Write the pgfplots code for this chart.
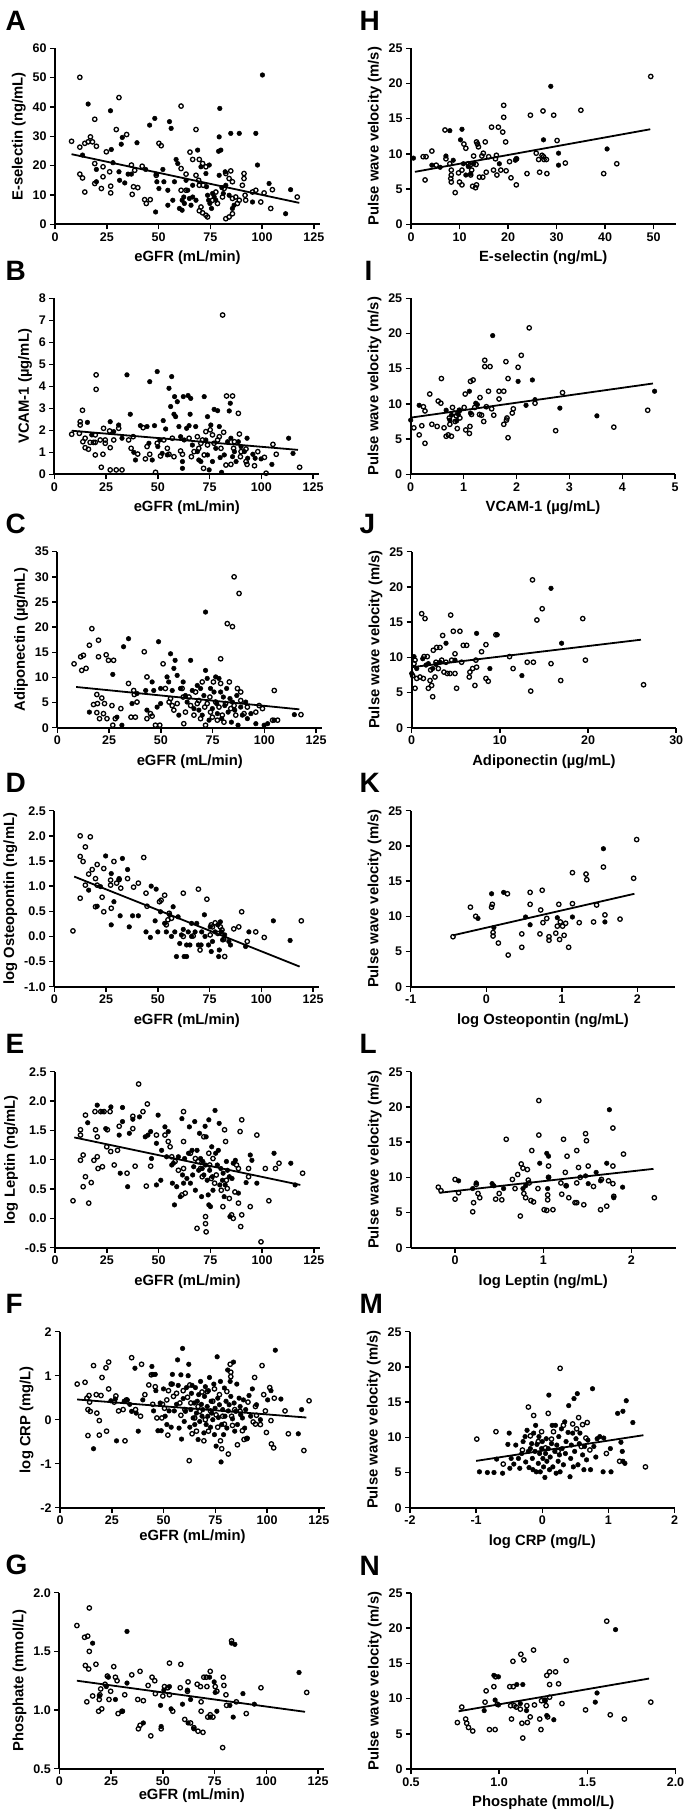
\documentclass[border=0pt]{standalone}
\usepackage{fontspec}
\setmainfont{Liberation Sans}
\usepackage{pgfplots}
\pgfplotsset{compat=1.18}
\pgfplotsset{
  panel/.style={
    scale only axis, width=265pt, height=176pt, anchor=north west,
    axis lines=left, axis line style={-, line width=2pt},
    every tick/.style={black, line width=1.5pt},
    tick align=outside, major tick length=5pt,
    tick label style={font=\fontsize{12.5}{14}\selectfont\bfseries},
    label style={font=\fontsize{14.8}{16}\selectfont\bfseries},
    xlabel style={yshift=-2.5pt},
    /pgf/number format/assume math mode=true,
    clip=false, scaled ticks=false,
  },
  lpanel/.style={panel, xmin=0, xmax=128, xtick={0,25,...,125}, xlabel={eGFR (mL/min)}},
  rpanel/.style={panel, width=264.5pt, ymin=0, ymax=25, ytick={0,5,...,25}, ylabel={Pulse wave velocity (m/s)}},
  dec1y/.style={yticklabel style={/pgf/number format/fixed, /pgf/number format/fixed zerofill, /pgf/number format/precision=1}},
  dec1x/.style={xticklabel style={/pgf/number format/fixed, /pgf/number format/fixed zerofill, /pgf/number format/precision=1}},
  op/.style={only marks, mark=o, mark size=2.2pt, mark options={line width=1.3pt, draw=black, fill=white}},
  fp/.style={only marks, mark=*, mark size=2.3pt, mark options={line width=0.5pt, draw=black, fill=black}},
  reg/.style={no marks, line width=1.8pt, black},
}
\tikzset{plet/.style={anchor=base west, font=\fontsize{28}{30}\selectfont\bfseries}}
\begin{document}
\begin{tikzpicture}
\useasboundingbox (0pt,0pt) rectangle (685pt,-1811pt);
% ---------------- A ----------------
\node[plet] at (2pt,-30.3pt) {A};
\begin{axis}[lpanel, at={(55pt,-48.3pt)}, ymin=0, ymax=60, ytick={0,10,...,60}, ylabel={E-selectin (ng/mL)}]
\addplot[op] coordinates {(8,28.3)(12,50.1)(12,26.3)(14.4,27.6)(12,17.1)(13.3,15.8)(14.4,11)(16,28.1)(17.1,29.8)(18.1,28.1)(19.2,35.8)(20,26.6)(19.2,20.7)(19.2,13.9)(22.4,12.2)(23.2,16.2)(24.8,24.7)(23.2,19.6)(26.4,17.9)(26.9,13)(26.9,10.7)(30.9,43.2)(29.6,32.3)(34.6,30.6)(36.9,20.2)(37.3,10.2)(37.9,12.8)(40,12.5)(38.5,18.4)(42.1,19.8)(43.3,8.4)(44.1,7.1)(46,8.4)(48.9,16.7)(50.2,27.6)(51.3,26.8)(60.9,40.3)(60.9,19)(60.9,11.6)(63.3,11.6)(63.3,17.1)(65.2,24.6)(68.1,32.3)(66.5,22.1)(69.7,22.1)(71.3,20.7)(72.9,19.6)(68.1,16.7)(69.4,15)(69.7,13.3)(71.6,13.3)(69.7,4.6)(71.3,3.9)(72.9,3.1)(73.7,2.5)(70.5,5.9)(76.1,8.2)(78.5,7.1)(77.7,11)(84.1,15.6)(84.9,18.2)(82.5,17.3)(81.7,12.2)(80.9,9.3)(85.7,14.5)(85.7,8.8)(85.7,3.6)(84.1,2.5)(82.5,1.9)(87.3,9.3)(88.1,7.1)(89,8.2)(90.5,13.3)(91.3,17.3)(91.3,15.6)(91.8,9.9)(92.1,8.2)(95.4,11)(97,11.6)(99.4,7.6)(101,10.7)(105,11.8)(104.2,5.4)(117,9.3)};
\addplot[fp] coordinates {(16,41)(26.8,38.7)(13.3,23.6)(20,18.7)(20,14.5)(27.2,25.5)(28,21)(30.9,17.9)(31.2,15)(32,27.3)(32.5,29.6)(33.7,14.1)(35.3,17.1)(36.9,17.1)(39.6,27.8)(43.8,18.7)(45.7,33.8)(48.2,36.1)(48.9,17.1)(49.2,14.5)(48.6,4.2)(50.2,12.2)(52.1,18.7)(52.6,14.5)(54.5,11.6)(54.5,6.5)(55.3,35)(56.1,32.7)(56.9,8.2)(57.7,14.5)(58.5,22.1)(59.3,20.7)(60.1,5.4)(61.4,4.8)(61.4,8.2)(62.2,9.3)(62.5,7.1)(63.3,15)(64.1,11.6)(64.9,8.8)(65.7,6.5)(66.5,13.3)(66.5,9.3)(68.1,8.2)(68.9,25.3)(70.5,19.6)(72.9,17.3)(73.2,12.8)(73.7,9.9)(74.5,20.2)(74.2,8.2)(74.8,7.1)(75.6,5.4)(76.1,10.5)(76.9,9.3)(77.7,8.2)(79,24.9)(79.3,29.8)(79.3,16.7)(79.6,39.5)(80.6,12.5)(81.3,10.5)(82.2,17.9)(82.5,13.3)(84.9,31)(80.1,25.3)(85.7,5.4)(86.5,6.5)(89,31)(84.1,9.9)(97,31)(97.8,20.2)(95.4,7.6)(100.2,50.9)(103.4,13.9)(111.4,3.6)(113.8,11.8)};
\addplot[reg] coordinates {(8,23.9)(118,7.3)};
\end{axis}
% ---------------- B ----------------
\node[plet] at (2pt,-280.3pt) {B};
\begin{axis}[lpanel, at={(54.3pt,-298.3pt)}, ymin=0, ymax=8, ytick={0,1,...,8}, ylabel={VCAM-1 (µg/mL)}]
\addplot[op] coordinates {(8.4,1.82)(12.5,2.39)(12.5,2.24)(13.6,2.91)(12.1,1.86)(13.8,1.48)(14.9,1.64)(14.9,1.21)(16.5,1.14)(17.3,1.45)(18.9,1.45)(20.2,4.52)(20.2,3.86)(19.8,1.79)(19.8,1.45)(19.8,0.88)(22.2,1.56)(22.7,0.32)(23.5,0.91)(23.8,2.09)(24.6,1.56)(24.6,1.41)(26.7,1.97)(27,1.21)(27,0.2)(28.7,1.56)(29.9,0.2)(31.1,2.09)(32.7,0.2)(35.9,1.56)(37.1,1.18)(38.1,1.71)(40.3,0.92)(42.9,2.12)(44,0.7)(44.8,1.26)(46.1,0.91)(48.9,0.09)(49.7,1.41)(51.3,0.83)(52.9,1.56)(54.6,1.18)(55.4,0.91)(57,1.64)(57.8,0.8)(61,1.06)(61.9,0.91)(65.1,1.64)(66.2,0.8)(67.5,1.03)(69.1,1.71)(69.8,1.18)(70.8,1.41)(71.6,1.56)(72.1,0.27)(72.4,0.88)(73.2,1.94)(74,1.33)(75.3,2.02)(76.4,1.79)(77.2,1.41)(78.9,1.56)(79.7,1.71)(80.5,1.18)(81.3,7.24)(81.8,1.91)(82.9,0.42)(83.2,3.56)(86.1,3.56)(85.3,0.45)(86.6,1.18)(87,1.48)(88.9,2.77)(89.4,1.83)(89.9,0.8)(90.2,1.03)(92.6,0.58)(93.1,0.45)(92.6,1.15)(96.7,0.39)(98.3,1.03)(101.5,0.77)(102.3,0.05)(105.6,1.36)(107.2,0.91)(118.5,0.32)};
\addplot[fp] coordinates {(16,2.36)(18.1,1.79)(27,2.39)(31.1,2.24)(28.7,1.94)(32.7,1.64)(35.1,4.52)(36.7,2.73)(38.4,1)(39.2,0.65)(41.6,2.21)(44.8,2.17)(45.7,1.41)(46.1,4.21)(47.3,0.65)(48.4,2.21)(49.7,4.67)(50,1.26)(51,1.56)(52.1,0.95)(52.6,2.44)(53.8,2.06)(54.6,0.88)(55.4,3.91)(56.2,3.08)(56.7,4.44)(57.8,2.73)(58.1,3.53)(58.6,2.62)(59.4,3.3)(60.2,2.17)(61,1.71)(61.9,0.58)(61.9,0.27)(62.3,3.53)(62.7,1.56)(63.9,2.09)(64.6,3.58)(65.1,2.21)(65.9,3.45)(65.6,2.73)(66.7,1.33)(68.3,2.17)(69.1,1.03)(69.8,0.65)(70.8,0.58)(72.4,3.53)(73.2,1.56)(74,2.62)(74,0.88)(74.8,0.2)(75.6,2.24)(76.4,0.58)(77.2,2.95)(78,1.18)(78.9,2.89)(79.7,2.17)(80.1,0.76)(80.8,0.09)(82.1,0.88)(83.7,1.48)(84.5,2.88)(85,3.23)(85.3,1.64)(86.1,0.8)(87,1.03)(87.8,0.58)(88.9,1.48)(90.2,1.26)(91.8,1.03)(93.1,1.64)(93.4,0.73)(95.9,0.91)(97,0.73)(99.9,0.7)(105.1,0.45)(113.2,1.64)(115.3,0.95)};
\addplot[reg] coordinates {(8.4,1.98)(117.7,1.11)};
\end{axis}
% ---------------- C ----------------
\node[plet] at (2pt,-533.7pt) {C};
\begin{axis}[lpanel, at={(57.3pt,-551.7pt)}, ymin=0, ymax=35, ytick={0,5,...,35}, ylabel={Adiponectin (µg/mL)}]
\addplot[op] coordinates {(8.1,12.7)(11.3,14.1)(11.8,11.4)(12.6,14.4)(13.9,11.8)(15.5,16.4)(16.7,19.7)(19.9,17.4)(19.9,14.1)(19.1,6.6)(19.4,4.8)(17.5,4.6)(19.1,3)(20.4,1.8)(21.5,5.9)(22.8,4.8)(23.6,14.5)(24.7,13.4)(22.3,2.8)(24,1.8)(27.2,13.4)(26.4,4.4)(26.8,0.5)(28,1.8)(30.7,3.8)(34.4,8.8)(35.6,2.1)(36.9,7.4)(37.2,6.6)(37.7,2.1)(38.5,5.1)(42,15.1)(43.3,1.8)(43.3,10.1)(45,2.8)(45.8,2.3)(47.4,0.5)(49.5,0.5)(51.1,12.7)(52.2,7.8)(54,5.1)(54.7,5.8)(55.5,4.4)(56.3,3.5)(57.9,4.8)(60.3,7.8)(60.8,6.1)(61.1,0.8)(61.9,3.1)(63.6,6.1)(64.4,4.4)(66,2.5)(66.8,7.1)(67.6,4.8)(68.4,5.4)(69.2,1.8)(70,9.1)(71.2,4.1)(71.6,0.5)(72.4,4.8)(73.7,6.1)(74,3.1)(74.9,2.1)(75.4,9.1)(76.5,5.1)(77.3,1.5)(78.1,4.1)(78.9,13.7)(78.9,8.8)(79.7,2.5)(80.5,1.1)(81.3,4.8)(82.1,20.7)(83.8,3.8)(84.6,20.1)(83.1,9.1)(85.4,30)(85.4,4.4)(86.2,2.5)(87,7.8)(87.8,26.7)(88.6,7.1)(88.6,5.4)(90.2,2.8)(91.8,4.1)(95.9,3.1)(97.5,4.4)(99.1,3.8)(104.8,7.4)(106.4,1.5)(117.7,2.6)(104,1.5)};
\addplot[fp] coordinates {(15.5,3.1)(26.8,10.6)(28.8,2.1)(32,16.1)(34.4,17.7)(31.2,0.5)(36.1,4.8)(38.5,6.8)(42.7,7.4)(43.3,3.5)(45.8,9.1)(46.6,7.4)(48.2,4.1)(48.9,17.1)(49.9,7.8)(49.9,4.8)(53,10.1)(53.8,9.1)(54.7,14.7)(55.5,7.4)(56.3,11.8)(56.9,13.4)(57.9,10.4)(58.7,2.5)(59.5,7.8)(60.8,9.1)(61.9,6.4)(62.7,5.1)(64.4,13.4)(65.2,7.4)(66,3.8)(67.6,8.4)(68.4,3.5)(69.2,7.8)(70,2.5)(70.8,6.4)(71.6,23)(71.6,11.4)(72.4,9.8)(73.3,1.5)(74,7.8)(74.9,3.8)(75.7,7.1)(76.5,10.1)(77,4.8)(77.3,2.8)(78.1,9.8)(78.9,7.1)(79.4,1.8)(80.2,6.1)(80.9,4.4)(81.8,7.8)(82.5,3.1)(83.4,5.8)(84.1,1.1)(84.6,5.1)(85.7,3.5)(86.7,6.4)(87.3,0.5)(88.6,4.1)(89.4,2.5)(91,5.1)(91.8,1.8)(93.5,2.8)(95.9,0.8)(99.9,0.5)(101.6,0.8)(104.8,1.5)(114.5,2.6)};
\addplot[reg] coordinates {(9.1,8.1)(116.9,3.65)};
\end{axis}
% ---------------- D ----------------
\node[plet] at (2pt,-792.7pt) {D};
\begin{axis}[lpanel, dec1y, at={(54.3pt,-810.7pt)}, ymin=-1, ymax=2.5, ytick={-1,-0.5,...,2.5}, ylabel={log Osteopontin (ng/mL)}]
\addplot[op] coordinates {(9,0.11)(12.5,2)(12.5,1.59)(12.5,0.76)(13.9,1.49)(15,1.78)(15,1.02)(16.6,1.24)(17.4,1.98)(18.3,1.33)(19.9,1.15)(20.7,1.43)(19.9,0.59)(20.7,1.02)(23.1,0.78)(23.9,1.35)(23.9,0.49)(27.5,0.56)(27.2,1.12)(27.2,1.02)(28.8,1.49)(30.1,1.06)(31.3,1.13)(32.1,0.96)(35.4,1.15)(38.3,0.98)(40.6,1.06)(43.2,1.57)(44.3,0.86)(44.8,0.6)(50.8,0.69)(51.6,0.72)(53.3,0.82)(54.1,0.23)(54.9,0.33)(55.5,0.46)(56.6,0.36)(62.3,0.86)(62.3,0)(67.1,0.01)(69.6,0.94)(70.4,-0.27)(73.7,0.74)(75.3,0.03)(75.8,0.23)(76.4,0.19)(77.7,0.27)(79,0.06)(80.2,0.19)(81,0.13)(82.3,-0.4)(81.8,-0.06)(86.7,0.15)(89.1,0.19)(90.5,0.49)(93.2,-0.1)(97.3,0.09)(101.4,-0.02)(119.3,0.31)};
\addplot[fp] coordinates {(16.6,0.92)(20.7,0.6)(22.3,0.99)(24.8,1.6)(27.5,1.25)(27.5,0.23)(28.8,0.69)(31.3,1.15)(31.8,0.41)(32.9,1.55)(35.4,1.33)(36.2,0.19)(37.8,0.41)(40.6,0.41)(44.3,0.09)(46.4,-0.02)(46.8,1)(49.2,0.94)(48.7,0.31)(50,0.09)(51.3,0.49)(53.3,0.26)(54.1,0.09)(55.7,0.43)(56.6,0)(57.4,0.59)(58.2,0.09)(59,-0.4)(59.8,0.39)(60.6,-0.14)(61.4,0.03)(62.3,0.14)(62.7,-0.4)(63.9,-0.4)(63.9,-0.17)(64.7,0.09)(65.5,-0.17)(66.3,0.26)(66.3,0)(68,0.09)(68.8,0.26)(69.6,-0.17)(70.9,-0.17)(71.2,0.09)(72.5,0.43)(72.8,0)(74.5,-0.17)(75.3,0.19)(75.8,-0.3)(76.4,-0.1)(77.7,0.09)(79,0.23)(79.4,-0.4)(79.7,-0.27)(80.2,0.29)(80.7,0.09)(81.3,-0.07)(82.3,0.03)(84.3,-0.1)(85.1,-0.17)(92.4,-0.2)(94,0.09)(105.8,0.31)(113.9,-0.08)};
\addplot[reg] coordinates {(9.6,1.19)(118.5,-0.6)};
\end{axis}
% ---------------- E ----------------
\node[plet] at (2pt,-1053.7pt) {E};
\begin{axis}[lpanel, dec1y, at={(55pt,-1071.7pt)}, ymin=-0.5, ymax=2.5, ytick={-0.5,0,...,2.5}, ylabel={log Leptin (ng/mL)}]
\addplot[op] coordinates {(8.7,0.3)(12.3,1.51)(12.3,1.42)(12.3,0.99)(13.6,1.08)(13.6,0.54)(14.7,0.71)(14.7,1.76)(16.3,0.26)(17.5,0.61)(18.8,0.99)(19.3,1.82)(19.6,1.51)(20.4,1.39)(20.4,1.05)(20.8,0.85)(22.1,1.82)(22.9,0.88)(23.7,1.82)(25,1.22)(25.3,1.51)(26.6,1.82)(26.9,1.14)(28.6,0.91)(30.2,1.16)(31,1.57)(34.8,0.77)(37.6,1.53)(37.6,1.74)(38.7,0.89)(40.4,2.29)(42.5,1.82)(44.1,0.55)(44.6,1.95)(46.2,0.89)(49,1.42)(53.1,1.42)(54.7,1.31)(55.6,1.22)(56.4,1.05)(58,0.97)(59.6,0.82)(61.3,0.4)(62.1,0.85)(62.1,1.82)(62.1,1.31)(62.9,0.43)(65.4,1.11)(67.8,1.02)(68.6,-0.17)(69.1,0.97)(70.3,0.85)(71.1,0.71)(71.9,1.39)(72.7,-0.09)(73,-0.23)(72.7,0.03)(74.3,1.11)(74.7,0.91)(75.5,0.68)(76.3,1.02)(77.1,0.6)(77.9,0.74)(80.3,0.48)(81.1,0.2)(81.9,1.51)(82.4,1.31)(82.8,0.65)(83.2,0.51)(84.2,0.34)(85.3,0.06)(86.1,0)(86.9,0.45)(87.7,0.91)(88.6,0.85)(88.6,0.26)(89.4,1.48)(90.2,0.06)(90.2,1.68)(89.7,-0.14)(93.5,0.85)(93.5,0.71)(94.3,0.2)(97.5,1.42)(99.5,-0.4)(101.6,0.85)(103.3,0.3)(106.5,0.85)(108.2,0.94)(119.6,0.77)};
\addplot[fp] coordinates {(15.8,1.63)(20.4,1.93)(22.9,1.82)(24.5,1.53)(27,1.9)(31,1.42)(31.5,0.77)(32.6,1.89)(32.6,1.65)(35.1,0.54)(35.9,1.45)(37.6,1.69)(40.8,1.73)(43.6,1.39)(44.9,1.42)(46.2,1.48)(46.6,1.02)(49,1.28)(49,0.57)(49.8,1.76)(51.1,0.65)(51.5,1.16)(53.1,1.56)(53.9,1.05)(54.7,1.48)(56.4,0.91)(56.7,0.6)(57.7,0.23)(57.2,0.94)(58.8,0.54)(59.6,1.05)(60.5,0.37)(61.3,1.7)(61.6,0.74)(62.1,0.6)(62.6,1.02)(63.7,0.68)(64.5,1.11)(64.9,1.56)(65.4,0.6)(66.2,1.16)(66.5,0.74)(67,0.88)(67.5,1.65)(67.8,0.48)(68.6,1.16)(69.4,0.82)(69.8,1.45)(70.3,1.02)(70.8,0.37)(71.1,0.85)(71.4,0.97)(71.9,0.74)(72.5,1.57)(72.7,0.91)(73,1.39)(73.5,0.65)(74,0.4)(74.3,1.68)(74.3,0.23)(74.7,0.82)(75.1,0.2)(75.7,1.22)(76,0.71)(76.3,0.48)(77.3,1.84)(77.6,1.11)(78.4,0.91)(78.9,1.16)(79.3,1.62)(79.6,0.57)(80.1,0.85)(80.9,0.65)(81.2,0.77)(81.7,0.37)(82.2,0.57)(82.8,0.97)(83.3,0.82)(84.2,0.71)(84.5,0.03)(85.5,0.68)(86.1,0.94)(87.1,0.99)(88.6,0.43)(92.3,0.61)(94.3,1.08)(95.1,0.99)(97.5,0.6)(105.8,1.11)(113.9,0.94)(116,0.57)};
\addplot[reg] coordinates {(9.3,1.38)(118.5,0.57)};
\end{axis}
% ---------------- F ----------------
\node[plet] at (2pt,-1313.7pt) {F};
\begin{axis}[lpanel, at={(60pt,-1331.7pt)}, ymin=-2, ymax=2, ytick={-2,-1,...,2}, ylabel={log CRP (mg/L)}, xlabel style={yshift=5pt}]
\addplot[op] coordinates {(8.3,0.81)(12.1,0.85)(13,0.49)(14,0.55)(13.5,0.23)(14.3,0.4)(14.6,0.19)(13.5,-0.36)(16.2,1.23)(17.5,0.57)(17.8,0.15)(19,-0.02)(19,-0.35)(20.3,0.96)(19.8,0.55)(22.2,1.18)(23.5,1.31)(22.5,-0.26)(23.5,0.7)(26.2,0.4)(27,0.54)(28.3,0.2)(30.5,0.23)(31.4,-0.48)(32.1,0.45)(34.6,1.41)(36.5,0.23)(39.4,1.26)(38.9,0.08)(41,0.57)(42.9,0.79)(44.1,1.02)(44.8,0.35)(46,0.75)(46.8,0.04)(49.2,0.04)(49.5,0.35)(50.5,0.26)(51.6,0.45)(52.4,0.66)(53.7,0.81)(52.1,-0.35)(54.8,0.53)(56.3,0.6)(57.9,0.38)(58.4,0.1)(59.5,0.66)(60.3,0.23)(61.6,0.51)(62.7,0.79)(62.4,-0.93)(63.2,0.38)(63.8,-0.32)(65.1,0.04)(65.9,-0.26)(66.7,0.3)(67.5,0.19)(68.6,0.63)(69.5,-0.48)(70.2,0)(71.1,0.64)(71.7,-0.26)(72.7,0.2)(73.8,0.42)(74.6,0.7)(75.4,0.11)(76.2,-0.17)(77,0.57)(77.5,-0.48)(78.1,-0.66)(78.6,0.08)(79.4,-0.1)(80.6,0.64)(81.3,-0.78)(82.2,1.26)(82.5,1.08)(82.5,0.98)(82.9,0.08)(83.3,-0.13)(84.4,0.23)(85.7,-0.57)(87,0.19)(88.1,-0.25)(88.9,-0.45)(90.2,-0.43)(90.8,0.4)(93.3,-0.05)(94,0.96)(94.4,0.3)(94.9,0.1)(94.4,-0.1)(96.8,-0.11)(97.6,1.23)(98.4,0.57)(99.2,0.2)(99.7,-0.29)(101.3,0.73)(101.9,-0.02)(102.1,-0.55)(103.2,-0.64)(103.5,0.49)(108.7,0.2)(110.3,-0.32)(117.8,-0.7)(120.3,0.43)};
\addplot[fp] coordinates {(16.2,-0.66)(24.6,0.43)(26.7,0.47)(27.3,-0.48)(31,0.42)(32.5,0.45)(34.6,0.19)(36.2,1.17)(33.7,0.35)(36.8,0.15)(37.8,-0.26)(40,0.45)(44.4,1.21)(44.8,1.03)(46,1.03)(45.2,0.2)(46.3,0.66)(47.3,-0.25)(48.9,-0.25)(48.4,0.38)(50,0.7)(50.8,0.08)(51.6,-0.11)(52.7,0.2)(53.7,-0.17)(54.3,1.03)(54.3,0.81)(55.2,0.2)(56.3,0.35)(56.8,1.36)(57.1,0.78)(57.5,-0.19)(58.4,1.02)(58.7,-0.44)(59.2,1.62)(59.5,0.48)(60,-0.04)(60.6,0.19)(61.1,0.73)(61.9,1)(62.2,1.26)(62.7,-0.17)(63.2,0.23)(63.5,0.6)(63.8,0.78)(64.3,0.04)(64.8,0.38)(65.1,-0.11)(65.4,0.73)(65.9,0.15)(66.3,0.42)(66.7,-0.45)(67,0.57)(67.5,-0.04)(67.9,0.87)(68.3,0.35)(68.6,0.08)(69,0.23)(69.5,-0.3)(69.8,0.53)(70.2,0.75)(70.6,-0.11)(71.1,0.3)(71.4,0.08)(71.7,0.66)(72.2,0.96)(72.7,-0.17)(73,0.42)(73.3,0.15)(73.8,0)(74.3,0.81)(74.6,-0.34)(74.9,0.26)(75.4,-0.6)(75.9,1.43)(76.2,0.49)(76.5,0.05)(77,0.34)(77.5,0.87)(77.8,-0.96)(78.1,-0.11)(78.6,0.23)(79,-0.34)(79.4,0.72)(79.7,0.08)(80.2,0.42)(80.6,-0.19)(81,1.13)(81.3,0.2)(81.7,0.34)(82.2,0.87)(82.5,0.53)(83.3,0.02)(83.8,1.31)(84.1,0.38)(84.4,-0.26)(84.9,0.19)(85.4,0.81)(85.7,-0.11)(86.5,0.49)(87,0.3)(87.3,0.11)(88.1,0.04)(88.6,0.45)(89.2,-0.19)(89.7,0.23)(90.5,-0.42)(91.3,0.55)(92.1,0.08)(92.9,0.7)(94.9,0.34)(96.8,0)(100.3,0.45)(101.9,0.66)(104,1.58)(106.7,0.47)(115.1,-0.32)(116.7,0.23)};
\addplot[reg] coordinates {(8.3,0.46)(119,0.05)};
\end{axis}
% ---------------- G ----------------
\node[plet] at (2pt,-1574.7pt) {G};
\begin{axis}[lpanel, dec1y, at={(59.3pt,-1592.7pt)}, ymin=0.5, ymax=2, ytick={0.5,1,1.5,2}, ylabel={Phosphate (mmol/L)}, xlabel style={yshift=7pt}]
\addplot[op] coordinates {(8.5,1.72)(12.2,1.62)(13.7,1.63)(14.5,1.5)(14.5,1.87)(12.6,1.38)(14.2,1.35)(13.3,1.07)(16.1,1.12)(17.7,1.39)(19.3,1.09)(19,0.99)(19.6,1.13)(20,1.18)(20.5,1.01)(22.1,1.22)(23.2,1.29)(24,1.09)(24.8,1.16)(26.3,1.37)(27.1,1.28)(27.9,1.25)(28.4,0.97)(30.3,0.99)(31.6,1.13)(35,1.3)(37.9,1.09)(38.2,0.84)(39,1.33)(39,0.87)(40.6,1.08)(42.9,1.21)(44.2,0.78)(44.8,1.28)(46.1,1.25)(46.4,1.14)(49.2,0.84)(50,1.12)(50.8,1.2)(52.4,1.19)(53.2,1.13)(53.2,1.4)(54.8,0.99)(58.4,1.19)(58.7,1.39)(60.6,0.92)(61.9,1.16)(62.2,1.24)(63.4,0.89)(65,0.85)(66.6,1.22)(67,0.82)(68.2,1.2)(68.5,1.07)(68.5,0.99)(69.4,0.81)(69.8,1.28)(71,1.28)(71.3,1.2)(71.7,0.94)(72.9,1.33)(72.9,0.96)(74.2,0.94)(75.3,1.2)(76.1,1.16)(78.9,0.68)(79.2,1.28)(79.5,1.21)(80.5,1.13)(80.8,1.04)(83.2,1.59)(85.5,1.07)(90.3,0.97)(97.4,1.19)(119.5,1.15)};
\addplot[fp] coordinates {(16.1,1.57)(19.3,1.12)(22.7,1.2)(23.7,1.28)(27.1,1.09)(30.6,0.99)(32.7,1.67)(32.7,1.23)(40.6,0.89)(48.9,1.04)(49.2,0.86)(50.5,1.17)(53.2,1.2)(54,1.01)(59.5,1.05)(61.9,1.17)(62.2,0.89)(63.4,1.09)(65,0.84)(72.6,1.28)(72.9,0.94)(74.8,1.24)(75.3,1.15)(76.1,0.99)(82.4,1.04)(83.2,1.57)(84.8,1.56)(84,0.94)(88.7,1.14)(94.2,1.05)(115.8,1.32)};
\addplot[reg] coordinates {(8.5,1.25)(118.7,0.985)};
\end{axis}
% ---------------- H ----------------
\node[plet] at (356pt,-30.3pt) {H};
\begin{axis}[rpanel, at={(411pt,-48.3pt)}, xmin=0, xmax=54.5, xtick={0,10,...,50}, xlabel={E-selectin (ng/mL)}]
\addplot[op] coordinates {(2.9,6.3)(2.5,9.6)(3.1,9.6)(4.3,10.4)(5.2,8.4)(7,13.4)(7.2,9.3)(8,8.6)(8.3,7.7)(8.3,7)(8.3,6)(8.2,6.5)(9.1,4.5)(9.8,7.3)(10,6)(10.5,5.6)(10.5,7.7)(10.9,11.4)(11.3,10.8)(11.8,8.6)(12.2,8.4)(12.3,7)(12.5,7.7)(12.9,9.7)(12.7,5.4)(13.3,5.2)(13.4,8.5)(13.5,5.6)(13.5,11.7)(13.7,11.4)(13.9,11)(14.1,6.7)(14.6,9.7)(14.8,6.7)(14.9,10.1)(15.3,11.7)(15.5,7.4)(16,9.6)(16.6,13.8)(17,7.7)(17.4,9.3)(17.6,9.8)(17.7,7)(18,13.8)(18.5,7.7)(18.9,13.1)(19.1,15.2)(19.1,16.9)(19.5,11.7)(19.6,7.6)(20.3,8.9)(20.6,6.6)(21.7,5.6)(21.7,9.3)(23.9,7.2)(24.6,15.5)(25.8,10.1)(26.3,9.2)(26.5,7.4)(27,9.8)(27.2,16.1)(27.3,9.6)(27.4,9.2)(28,7.2)(27.9,9.2)(29.4,15.5)(30.1,11.9)(31.8,8.7)(35,16.2)(39.7,7.2)(42.4,8.6)(49.4,21)};
\addplot[fp] coordinates {(0.5,9.4)(4.3,8.4)(6,8.1)(7.2,9.7)(8,13.3)(8.7,9.1)(10.2,12)(10.5,13.5)(10.8,8.6)(11.3,7)(11.8,8.2)(12.3,7.2)(12.9,8.6)(18.2,8.6)(21.5,9.1)(21.8,9.3)(27.3,12)(28.8,19.6)(30.4,10.1)(30.4,8.4)(40.4,10.7)};
\addplot[reg] coordinates {(0.8,7.45)(49.3,13.5)};
\end{axis}
% ---------------- I ----------------
\node[plet] at (361pt,-280.3pt) {I};
\begin{axis}[rpanel, at={(410.7pt,-298.3pt)}, xmin=0, xmax=5, xtick={0,1,...,5}, xlabel={VCAM-1 (µg/mL)}]
\addplot[op] coordinates {(0.06,6.6)(0.16,5.6)(0.21,6.9)(0.24,9.6)(0.27,9)(0.27,4.4)(0.36,11.4)(0.4,7.1)(0.52,10.4)(0.5,6.8)(0.57,10.1)(0.58,13.6)(0.63,6.6)(0.67,5.4)(0.71,5.6)(0.73,8)(0.74,7.1)(0.77,5.4)(0.79,9.5)(0.82,8.7)(0.84,7.5)(0.86,8.3)(0.88,6.5)(0.92,9.1)(0.93,8)(1.01,9.5)(1.03,11.4)(1.04,6.3)(1.11,5.8)(1.12,6.8)(1.13,13.2)(1.15,8.5)(1.18,13.4)(1.21,9.5)(1.3,8.5)(1.31,10.9)(1.34,8.4)(1.38,7.5)(1.4,16.2)(1.4,15.3)(1.43,9.6)(1.47,11.8)(1.5,15.3)(1.53,9.3)(1.57,8.4)(1.67,10.7)(1.67,11.8)(1.76,11.8)(1.76,7.1)(1.8,16)(1.81,7.7)(1.82,8)(1.84,13.6)(1.84,5.2)(1.92,8.7)(1.94,9.3)(2.03,15.2)(2.09,16.9)(2.24,20.8)(2.35,10.1)(2.74,6.2)(2.87,11.6)(3.84,6.7)(4.48,9.1)};
\addplot[fp] coordinates {(0,7.7)(0.16,9.8)(0.67,9.1)(0.74,7.7)(0.77,8.4)(0.87,7.6)(0.9,8.5)(0.92,9)(1.11,11.8)(1.13,8.7)(1.23,10.1)(1.26,9.9)(1.55,19.7)(2.03,13.2)(2.18,9.8)(2.3,13.4)(2.35,10.6)(2.82,9.4)(3.52,8.3)(4.61,11.8)};
\addplot[reg] coordinates {(0,8.05)(4.58,12.9)};
\end{axis}
% ---------------- J ----------------
\node[plet] at (356pt,-533.7pt) {J};
\begin{axis}[rpanel, at={(411.7pt,-551.7pt)}, xmin=0, xmax=30, xtick={0,10,20,30}, xlabel={Adiponectin (µg/mL)}]
\addplot[op] coordinates {(0.11,7.4)(0.26,9.1)(0.38,5.6)(0.57,7)(0.38,9.6)(1.13,16.2)(1.51,15.5)(0.94,7.2)(1.32,7)(1.4,10.1)(1.77,10.1)(1.89,5.6)(2.08,6.7)(2.15,8.2)(2.26,6)(2.38,4.4)(2.45,11)(2.64,7.2)(2.75,9.3)(2.83,11.4)(3.02,8.4)(3.21,11.4)(3.4,9.6)(3.51,13.1)(3.66,7.9)(3.89,9.3)(4.04,7.7)(4.34,7.7)(4.42,16)(4.53,9.6)(4.72,13.7)(4.91,10.5)(4.91,7.7)(5.09,5.6)(5.47,13.7)(5.66,9.3)(5.85,11.7)(6.23,11.7)(6.53,7.2)(6.6,7.9)(6.91,8.4)(7.17,6)(7.28,9.6)(7.36,8.6)(7.92,10.8)(8.42,11.8)(8.42,7)(8.68,6.6)(9.55,13.2)(11.1,10.1)(11.5,8.4)(13.1,9.3)(13.5,5.2)(13.7,21)(13.8,9.3)(14.2,15.3)(14.8,16.9)(15.8,9.1)(16.9,6.7)(19.4,15.5)(19.7,9.6)(26.3,6.1)};
\addplot[fp] coordinates {(0,7.7)(0.26,10.1)(0.57,8.4)(1.25,9.8)(1.62,8.9)(1.89,9.1)(2.38,8.4)(2.75,9)(3.21,9.3)(3.89,12)(4.91,9.6)(7.36,13.4)(8.87,8.4)(9.7,13.2)(12.5,7.4)(15.8,19.8)(17,12)};
\addplot[reg] coordinates {(0,8.6)(26,12.5)};
\end{axis}
% ---------------- K ----------------
\node[plet] at (356pt,-792.7pt) {K};
\begin{axis}[rpanel, at={(410.7pt,-810.7pt)}, xmin=-1, xmax=2.5, xtick={-1,0,1,2}, xlabel={log Osteopontin (ng/mL)}]
\addplot[op] coordinates {(-0.44,7.1)(-0.21,11.3)(-0.14,10)(0.07,11.3)(0.08,11.7)(0.09,7.7)(0.09,7.2)(0.16,6.2)(0.28,13.2)(0.29,4.5)(0.47,7.5)(0.47,5.6)(0.58,13.4)(0.58,11.7)(0.71,7.5)(0.72,10.9)(0.74,13.7)(0.75,9.1)(0.8,9.7)(0.83,7.1)(0.83,6.6)(0.92,7.6)(0.94,8.6)(0.96,11.7)(0.97,6.7)(0.98,9.2)(1.01,8.6)(1.03,7.3)(1.05,9)(1.09,5.6)(1.14,16.2)(1.14,11.8)(1.23,9.1)(1.32,16)(1.33,15.2)(1.42,9.2)(1.46,11.6)(1.55,17)(1.57,10.2)(1.77,9.6)(1.95,15.4)(1.99,20.9)};
\addplot[fp] coordinates {(0.07,13.2)(0.23,13.4)(-0.11,9.7)(0.1,8.4)(0.52,9.9)(0.58,8.8)(0.94,9.8)(1.14,9.9)(1.55,19.6)(1.57,9.2)};
\addplot[reg] coordinates {(-0.44,7.3)(1.96,13.2)};
\end{axis}
% ---------------- L ----------------
\node[plet] at (356pt,-1053.7pt) {L};
\begin{axis}[rpanel, at={(411pt,-1071.7pt)}, xmin=-0.5, xmax=2.5, xtick={0,1,2}, xlabel={log Leptin (ng/mL)}]
\addplot[op] coordinates {(-0.19,8.6)(-0.16,8.1)(0,9.7)(0,6.9)(0.04,7.8)(0.2,5.1)(0.21,6.4)(0.24,9)(0.26,7.7)(0.28,7.1)(0.46,6.9)(0.5,7.7)(0.53,6.8)(0.58,15.4)(0.65,9.7)(0.68,8.4)(0.71,10.4)(0.74,4.5)(0.75,11.9)(0.77,11.3)(0.78,7.7)(0.8,7.1)(0.82,11.1)(0.83,9.6)(0.84,9.2)(0.86,6.7)(0.87,13.8)(0.89,6.5)(0.94,8.4)(0.95,20.9)(0.95,16)(1.01,5.4)(1.04,5.3)(1.05,7.5)(1.05,6.8)(1.06,11.6)(1.06,10)(1.11,5.4)(1.2,9.2)(1.21,7.6)(1.23,15.4)(1.25,10.7)(1.26,8.8)(1.27,13)(1.29,7.1)(1.36,6.4)(1.38,6.4)(1.38,13.8)(1.4,11.4)(1.38,9.2)(1.42,10)(1.46,6.1)(1.48,16.2)(1.49,15.2)(1.51,11.6)(1.57,8.7)(1.65,5.4)(1.66,9.7)(1.72,5.9)(1.74,9.5)(1.79,9.1)(1.79,17)(1.79,11.6)(1.8,7.3)(1.91,13.3)(2.26,7.1)};
\addplot[fp] coordinates {(0.04,9.5)(0.2,8.4)(0.24,9.2)(0.42,9.1)(0.44,8.8)(0.55,8.4)(0.77,8.4)(0.8,8.8)(0.96,12)(1.04,13.4)(1.05,8.4)(1.06,13)(1.06,10)(1.26,8.8)(1.48,10.2)(1.51,9.1)(1.6,10.7)(1.65,9.5)(1.72,12)(1.75,19.6)(1.8,7.1)(1.9,8.6)};
\addplot[reg] coordinates {(-0.18,7.8)(2.25,11.2)};
\end{axis}
% ---------------- M ----------------
\node[plet] at (356pt,-1313.7pt) {M};
\begin{axis}[rpanel, at={(410pt,-1331.7pt)}, xmin=-2, xmax=2, xtick={-2,-1,...,2}, xlabel={log CRP (mg/L)}]
\addplot[op] coordinates {(-0.99,9.75)(-0.7,10.8)(-0.59,6.2)(-0.3,8.2)(-0.21,14.3)(-0.18,10.2)(-0.13,13.1)(-0.06,9.4)(-0.01,10.8)(0.05,8.5)(0.09,13.4)(0.14,9.75)(0.17,10.8)(0.24,8)(0.27,19.8)(0.32,11.7)(0.46,11.9)(0.52,11.2)(0.55,12.8)(0.59,8.7)(0.61,11.8)(0.66,9.9)(0.68,12.1)(0.72,8.2)(0.97,7.7)(1.17,6.6)(1.56,5.8)};
\addplot[fp] coordinates {(-0.95,5.1)(-0.83,5)(-0.73,5)(-0.6,4.9)(-0.69,6.9)(-0.52,9)(-0.5,10.6)(-0.49,5.6)(-0.47,7)(-0.43,6.2)(-0.4,8.9)(-0.36,7)(-0.34,5.6)(-0.31,7.7)(-0.29,9.4)(-0.26,10.1)(-0.25,6.5)(-0.23,11)(-0.21,8)(-0.2,5.7)(-0.18,8.4)(-0.16,9.1)(-0.15,7)(-0.14,5.4)(-0.13,10.6)(-0.11,8)(-0.1,11.7)(-0.09,5.1)(-0.08,9)(-0.06,6.3)(-0.05,10.1)(-0.04,7.7)(-0.03,5.1)(-0.01,8.4)(0,9.4)(0.01,7)(0.02,5.8)(0.04,4.3)(0.05,7.7)(0.06,9.8)(0.07,6.6)(0.09,8.4)(0.1,16)(0.11,5.4)(0.12,7.2)(0.14,9.1)(0.15,11.7)(0.16,5.8)(0.19,8)(0.2,11.7)(0.21,4.9)(0.22,8.9)(0.24,6.6)(0.25,10.1)(0.26,7.5)(0.27,5.1)(0.29,11.2)(0.3,8.4)(0.32,6.1)(0.34,12.2)(0.35,7.7)(0.36,9.4)(0.39,10.7)(0.4,14.5)(0.42,4.4)(0.43,7)(0.44,8.9)(0.46,10.6)(0.47,5.8)(0.48,15.5)(0.49,8)(0.51,9.8)(0.53,16.2)(0.54,6.1)(0.56,9.1)(0.57,10.6)(0.61,7.5)(0.63,5.4)(0.64,8.7)(0.67,6.8)(0.69,9.6)(0.73,5.4)(0.76,16.9)(0.78,8.7)(0.81,7.2)(0.83,9.8)(0.87,10.1)(0.93,9.9)(1.04,5.1)(1.03,8.4)(1.14,13.4)(1.22,13.7)(1.19,9.3)(1.21,8)(1.22,6.6)(1.25,6.3)(1.27,15.2)(1.37,12.1)(0.92,5.1)};
\addplot[reg] coordinates {(-1,6.65)(1.53,10.3)};
\end{axis}
% ---------------- N ----------------
\node[plet] at (356pt,-1575pt) {N};
\begin{axis}[rpanel, dec1x, at={(411pt,-1593pt)}, xmin=0.5, xmax=2, xtick={0.5,1,1.5,2}, xlabel={Phosphate (mmol/L)}]
\addplot[op] coordinates {(0.763,6.6)(0.788,8.8)(0.81,7.1)(0.816,6.5)(0.826,5.9)(0.85,5.4)(0.92,9.5)(0.926,11.1)(0.945,5.6)(0.97,11.7)(0.977,5.6)(0.98,13.1)(0.99,9.2)(1.06,11.7)(1.065,9)(1.07,7.1)(1.078,15.3)(1.08,11.7)(1.085,9)(1.097,8.8)(1.12,8.5)(1.123,16.3)(1.129,6.5)(1.134,4.4)(1.14,15.5)(1.157,9)(1.16,6.6)(1.176,7.4)(1.195,16.9)(1.2,9.1)(1.23,7.1)(1.237,5.6)(1.24,9.7)(1.26,9.7)(1.266,9)(1.27,13.3)(1.275,7.4)(1.286,12)(1.286,13.8)(1.286,10.2)(1.32,13.8)(1.337,12.1)(1.356,9.3)(1.38,15.4)(1.49,8.4)(1.63,7.7)(1.61,21)(1.71,7.1)(1.86,9.5)};
\addplot[fp] coordinates {(0.915,8.3)(0.97,13.3)(0.977,9.8)(0.996,13.1)(0.996,9.1)(1.1,12)(1.134,12)(1.12,9.3)(1.155,8.3)(1.26,9.8)(1.27,7.6)(1.31,7)(1.545,9.5)(1.555,10.8)(1.66,19.8)};
\addplot[reg] coordinates {(0.77,8.2)(1.85,12.85)};
\end{axis}
\end{tikzpicture}
\end{document}
